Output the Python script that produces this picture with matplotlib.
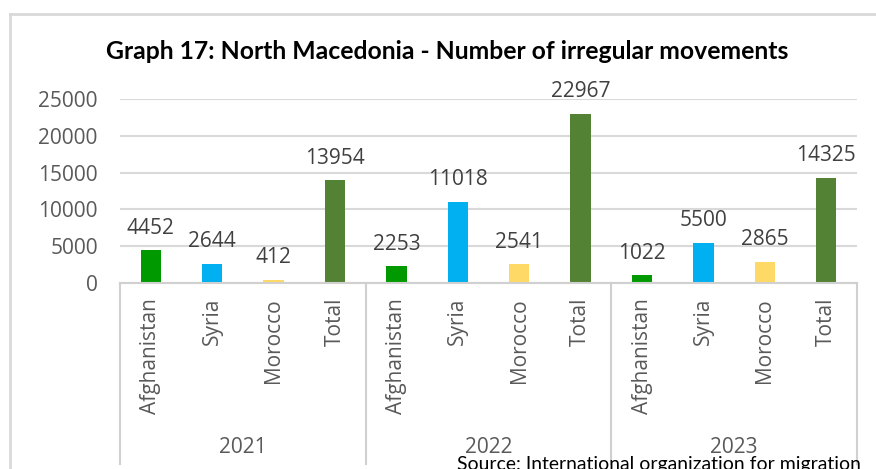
import matplotlib
matplotlib.use("Agg")
import matplotlib.pyplot as plt
from matplotlib.transforms import blended_transform_factory
from matplotlib.lines import Line2D

years = ["2021", "2022", "2023"]
categories = ["Afghanistan", "Syria", "Morocco", "Total"]
values_2021 = [4452, 2644, 412, 13954]
values_2022 = [2253, 11018, 2541, 22967]
values_2023 = [1022, 5500, 2865, 14325]
yticks = [0, 5000, 10000, 15000, 20000, 25000]
title = "Graph 17: North Macedonia - Number of irregular movements"
source = "Source: International organization for migration"

colors = {"Afghanistan": "#009A00", "Syria": "#00B0F0",
          "Morocco": "#FFD966", "Total": "#548235"}

W, H = 876, 469
fig = plt.figure(figsize=(W / 100, H / 100), dpi=100)
fig.patch.set_facecolor("white")

ax = fig.add_axes([120 / W, 1 - 283 / H, (857 - 120) / W, (283 - 99) / H])

all_vals = values_2021 + values_2022 + values_2023
labels = categories * 3
xs = list(range(len(all_vals)))
bar_colors = [colors[c] for c in labels]
ax.bar(xs, all_vals, width=0.33, color=bar_colors, zorder=3)

for x, v in zip(xs, all_vals):
    ax.annotate(str(v), (x, v), xytext=(0, 12), textcoords="offset points",
                ha="center", va="baseline", fontsize=15, color="#404040",
                family="Open Sans")

ax.set_xlim(-0.5, len(all_vals) - 0.5)
ax.set_ylim(0, 25000)
ax.set_yticks(yticks)
ax.set_yticklabels([str(t) for t in yticks], fontsize=15, color="#595959",
                   family="Open Sans")
ax.tick_params(axis="y", length=0, pad=16)
ax.set_xticks([])
ax.grid(axis="y", color="#D9D9D9", linewidth=1.5, zorder=0)
for s in ["top", "right", "left"]:
    ax.spines[s].set_visible(False)
ax.spines["bottom"].set_color("#D0D0D0")
ax.spines["bottom"].set_linewidth(1.5)
ax.spines["bottom"].set_zorder(4)

# multi-level category axis
tr = blended_transform_factory(ax.transData, fig.transFigure)
for x, lab in zip(xs, labels):
    ax.text(x, 1 - 298 / H, lab, transform=tr, rotation=90, ha="center",
            va="top", fontsize=15, color="#595959", family="Open Sans")
for i, yr in enumerate(years):
    ax.text(i * 4 + 1.5, 1 - 447.5 / H, yr, transform=tr, ha="center",
            va="center", fontsize=15, color="#595959", family="Open Sans")
for d in [-0.5, 3.5, 7.5, 11.5]:
    ax.add_line(Line2D([d, d], [1 - 283 / H, 1 - 464 / H], transform=tr,
                       color="#D0D0D0", linewidth=1.5, clip_on=False))

# chart frame
fig.add_artist(Line2D([10 / W, 10 / W], [0, 1 - 14 / H], transform=fig.transFigure,
                      color="#D9D9D9", linewidth=2))
fig.add_artist(Line2D([10 / W, 1], [1 - 14 / H, 1 - 14 / H], transform=fig.transFigure,
                      color="#D9D9D9", linewidth=2))

t_title = fig.text(447 / W, 1 - 59 / H, title, ha="center", va="baseline",
                   fontsize=16, fontweight="bold", color="black", family="Lato")
t_src = fig.text(457 / W, 1 - 469.5 / H, source, ha="left", va="baseline",
                 fontsize=14, color="black", family="Lato")

# fit text widths to the reference layout
renderer = fig.canvas.get_renderer()
for t, target in [(t_title, 686), (t_src, 405)]:
    w = t.get_window_extent(renderer).width
    t.set_fontsize(t.get_fontsize() * target / w)

fig.savefig("out.png", dpi=100, facecolor="white")
